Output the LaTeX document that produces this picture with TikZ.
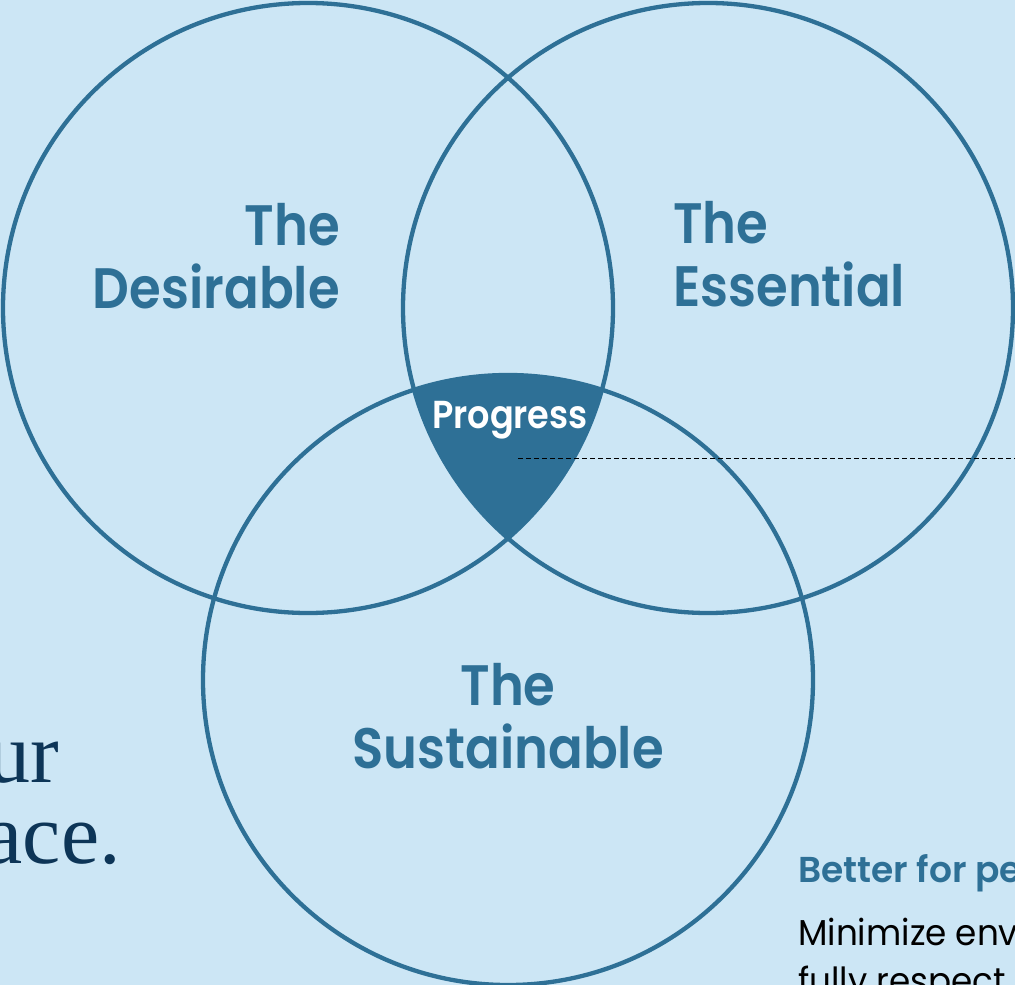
\documentclass[tikz,border=0pt]{standalone}
\usepackage{fontspec}
\setmainfont{Poppins}
\newfontfamily\headfont[FakeStretch=0.9]{Poppins SemiBold}
\newfontfamily\subheadfont{Poppins SemiBold}
\newfontfamily\bodyfont[FakeStretch=0.95]{Poppins}
\newfontfamily\seriffont{Liberation Serif}
\definecolor{bg}{HTML}{CCE6F5}
\definecolor{ring}{HTML}{2E7096}
\definecolor{navy}{HTML}{0D3557}
\tikzset{
  ringline/.style={draw=ring, line width=4.3pt},
  head/.style={text=ring, font=\headfont\fontsize{57}{63}\selectfont, inner sep=0pt},
  serifbig/.style={text=navy, font=\seriffont\fontsize{86}{86}\selectfont, inner sep=0pt, anchor=base east},
  bodytext/.style={text=black, font=\bodyfont\fontsize{36}{40}\selectfont, inner sep=0pt, anchor=base west},
}
\begin{document}
\begin{tikzpicture}[x=1pt,y=-1pt]
\useasboundingbox (0,0) rectangle (1015,985);
\clip (0,0) rectangle (1015,985);
\fill[bg] (0,0) rectangle (1015,985);
\coordinate (cl) at (308,308);
\coordinate (cr) at (708,308);
\coordinate (cb) at (508,680);
% progress region
\begin{scope}
  \clip (cl) circle (305);
  \clip (cr) circle (305);
  \fill[ring] (cb) circle (305);
\end{scope}
\draw[ringline] (cl) circle (305);
\draw[ringline] (cr) circle (305);
\draw[ringline] (cb) circle (305);
% labels
\node[head, anchor=base east] (d1) at (340,245) {The};
\node[head, anchor=base east] (d2) at (340,308) {Desirable};
\node[head, anchor=base west] (e1) at (673,243) {The};
\node[head, anchor=base west] (e2) at (673,306) {Essential};
\node[head, anchor=base] (s1) at (508,705) {The};
\node[head, anchor=base] (s2) at (508,768) {Sustainable};
\node[text=white, font=\headfont\fontsize{39}{42}\selectfont, inner sep=0pt, anchor=base] (pg) at (510,428) {Progress};
% dashed pointer
\coordinate (p0) at (518,458);
\coordinate (p1) at (1020,458);
\draw[black, line width=1pt, dash pattern=on 5pt off 3pt] (p0) -- (p1);
% left serif text
\node[serifbig] (t1) at (59,782) {ur};
\node[serifbig] (t2) at (121,863) {ace.};
% bottom right text
\node[text=ring, font=\subheadfont\fontsize{36}{40}\selectfont, inner sep=0pt, anchor=base west] (b1) at (798,882) {Better for pe};
\node[bodytext] (b2) at (798,945) {Minimize env};
\node[bodytext] (b3) at (798,993) {fully respect};
\end{tikzpicture}
\end{document}
